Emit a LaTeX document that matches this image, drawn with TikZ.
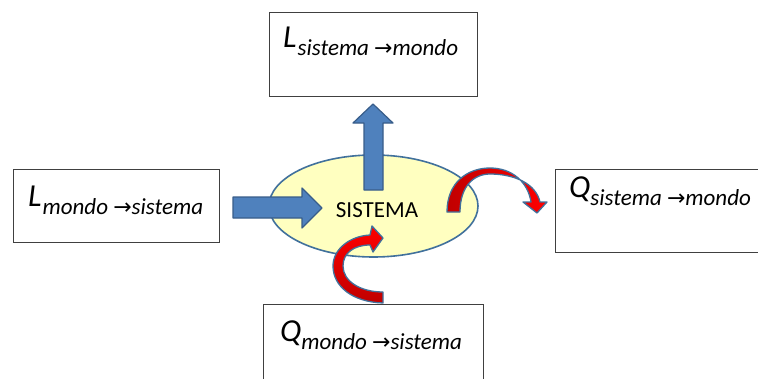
\documentclass[tikz,border=0pt]{standalone}
\usepackage{fontspec}
\usetikzlibrary{shapes.geometric}
\setmainfont{Carlito}
\newfontfamily\arrfont{DejaVu Sans}
\definecolor{ellfill}{HTML}{FFFFC0}
\definecolor{ellline}{HTML}{41719C}
\definecolor{bluefill}{HTML}{4F81BD}
\definecolor{blueline}{HTML}{385D8A}
\definecolor{darkred}{HTML}{C00000}
\definecolor{boxline}{HTML}{404040}
\tikzset{
  box/.style={draw=boxline, line width=1pt, fill=white, inner sep=0pt},
  bigarrow/.style={fill=bluefill, draw=blueline, line width=1.2pt, line join=round},
  curvearrow/.style={draw=ellline, line width=1.3pt, line join=round},
  lbl/.style={anchor=base west, inner sep=0pt, text=black},
}
\newcommand{\mainsym}[1]{{\fontsize{32}{32}\selectfont\itshape #1}}
\newcommand{\subtxt}[1]{\raisebox{-8pt}{\fontsize{23}{23}\selectfont\itshape #1}}
\newcommand{\arr}{{\arrfont\fontsize{22}{22}\selectfont →}}
\begin{document}
\begin{tikzpicture}[x=1pt,y=-1pt]
\clip (0,0) rectangle (758,378);
\fill[white] (0,0) rectangle (758,378);
% boxes
\node[box, minimum width=208pt, minimum height=84pt] (topbox) at (373,54) {};
\node[box, minimum width=206pt, minimum height=73pt] (leftbox) at (116,205.5) {};
\node[box, minimum width=215pt, minimum height=83pt] (rightbox) at (662.5,210.5) {};
\node[box, minimum width=220pt, minimum height=80pt] (botbox) at (373,344) {};
% labels
\node[lbl] (ltop) at (283,47) {\mainsym{L}\kern1pt\subtxt{sistema \arr mondo}};
\node[lbl] (lleft) at (28,206) {\mainsym{L}\kern1pt\subtxt{mondo \arr sistema}};
\node[lbl] (lright) at (569,197) {\mainsym{Q}\kern0pt\subtxt{sistema \arr mondo}};
\node[lbl] (lbot) at (280,341) {\mainsym{Q}\kern0pt\subtxt{mondo \arr sistema}};
% system ellipse
\node[ellipse, draw=ellline, fill=ellfill, line width=1.6pt, minimum width=209pt, minimum height=102pt, inner sep=0pt] (sys) at (373.5,206) {};
% blue arrows
\path[bigarrow] (233,197) -- (302,197) -- (302,188) -- (322,208) -- (302,228) -- (302,218) -- (233,218) -- cycle;
\path[bigarrow] (364,190) -- (364,123) -- (353,123) -- (373,104) -- (393,123) -- (383,123) -- (383,190) -- cycle;
\node[inner sep=0pt, text=black] (systxt) at (377,210) {\fontsize{23}{23}\selectfont SISTEMA};
% red curved arrows
\path[curvearrow, left color=darkred, right color=red]
  (447,212) .. controls (447,182) and (468,168) .. (490,168)
  .. controls (512,168) and (528,182) .. (531,202)
  -- (523,202) -- (537,213) -- (547,202) -- (540,202)
  .. controls (536,184) and (515,174) .. (490,174)
  .. controls (474,174) and (460,186) .. (460,212) -- cycle;
\path[curvearrow, bottom color=darkred, top color=red]
  (383,303) .. controls (352,302) and (333,286) .. (333,266)
  .. controls (333,249) and (350,236) .. (370,235)
  -- (372,226) -- (383,238) -- (373,252) -- (370,245)
  .. controls (354,245) and (343,253) .. (343,266)
  .. controls (343,281) and (360,292) .. (383,292) -- cycle;
\end{tikzpicture}
\end{document}
